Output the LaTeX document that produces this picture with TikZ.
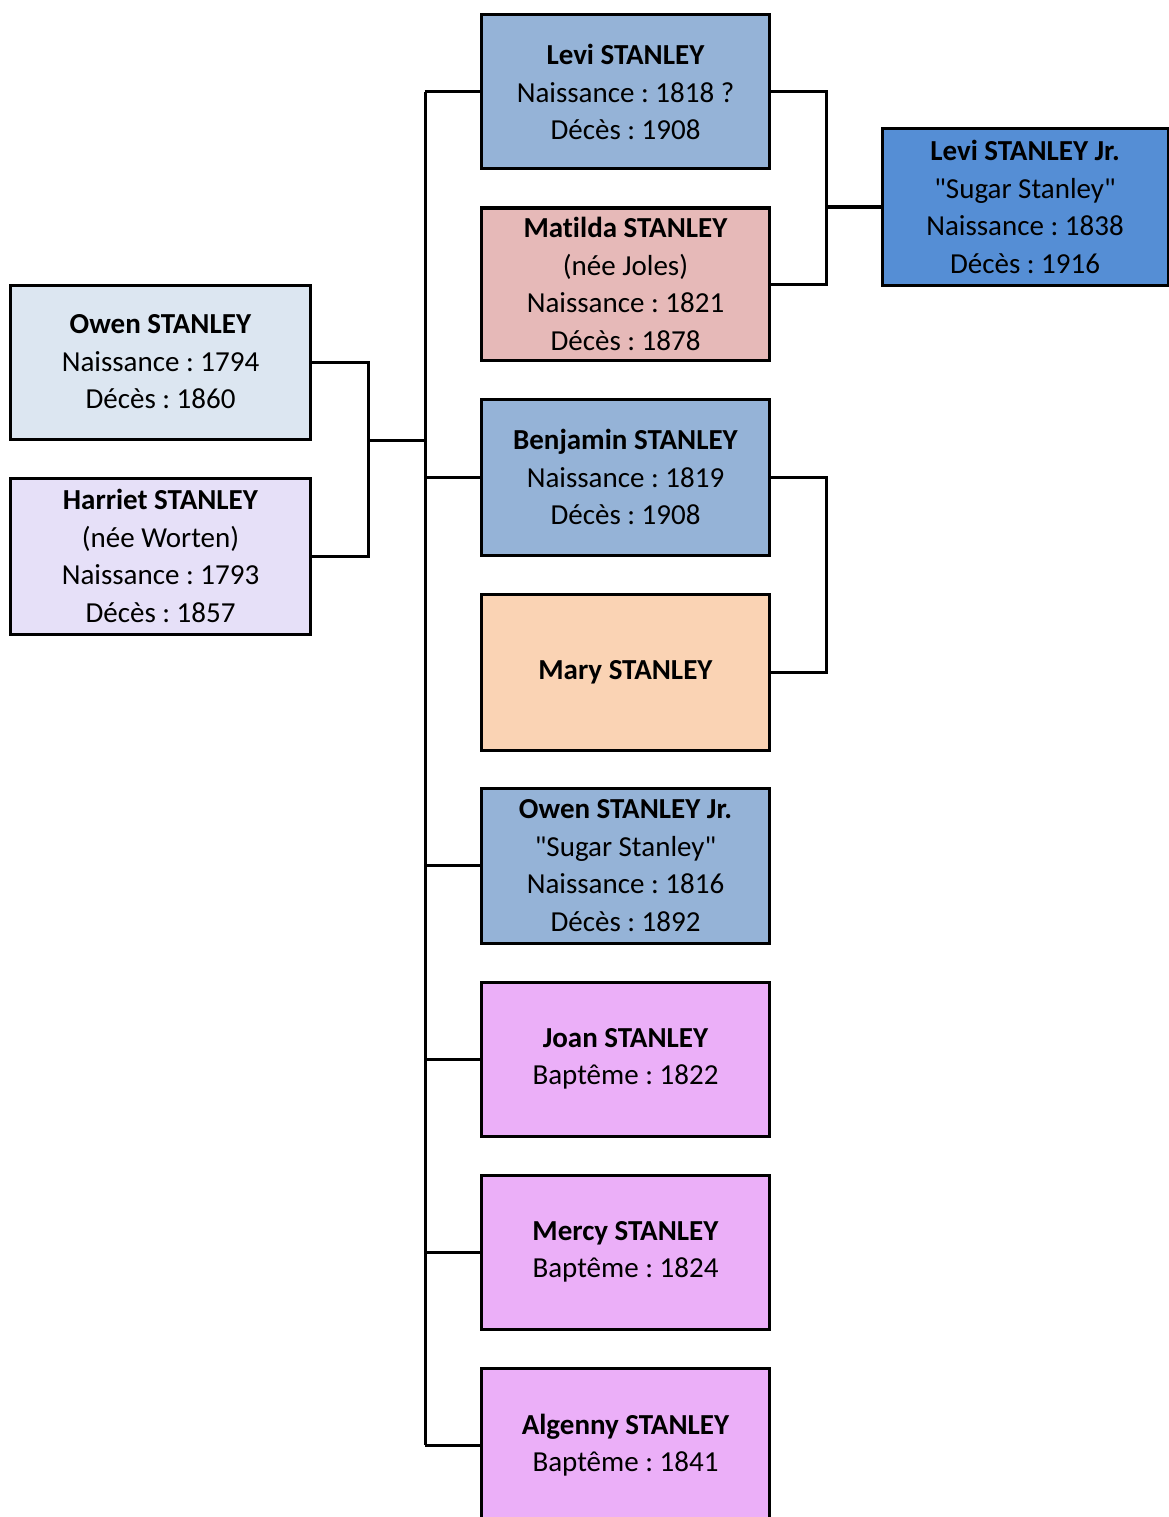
\documentclass[tikz,border=0pt]{standalone}
\usepackage{fontspec}
\newfontfamily\carl[Ligatures=NoCommon]{Carlito}
\definecolor{cOwen}{RGB}{220,230,241}
\definecolor{cHarriet}{RGB}{230,224,248}
\definecolor{cChild}{RGB}{149,179,215}
\definecolor{cMatilda}{RGB}{230,185,184}
\definecolor{cLeviJr}{RGB}{85,142,213}
\definecolor{cMary}{RGB}{250,211,180}
\definecolor{cBapt}{RGB}{235,175,248}
\tikzset{
  person/.style={draw=black, line width=3pt, inner sep=0pt, align=center,
    font=\carl\frenchspacing\fontsize{29}{37.5}\selectfont, text=black},
  colbox/.style={person, minimum width=288pt, minimum height=154pt},
  link/.style={draw=black, line width=3pt}
}
\begin{document}
\begin{tikzpicture}[x=1pt,y=-1pt]
\clip (0,0) rectangle (1169,1517);
\fill[white] (0,0) rectangle (1169,1517);
% parents
\node[person, fill=cOwen, minimum width=300pt, minimum height=154pt] (owen) at (160.5,362)
  {\textbf{Owen STANLEY}\\Naissance : 1794\\Décès : 1860};
\node[person, fill=cHarriet, minimum width=300pt, minimum height=156pt] (harriet) at (160.5,556)
  {\textbf{Harriet STANLEY}\\(née Worten)\\Naissance : 1793\\Décès : 1857};
% children column
\node[colbox, fill=cChild] (levi) at (625.5,92)
  {\textbf{Levi STANLEY}\\Naissance : 1818 ?\\Décès : 1908};
\node[colbox, fill=cMatilda, minimum height=152pt] (matilda) at (625.5,284)
  {\textbf{Matilda STANLEY}\\(née Joles)\\Naissance : 1821\\Décès : 1878};
\node[colbox, fill=cChild, minimum height=156pt] (benjamin) at (625.5,477)
  {\textbf{Benjamin STANLEY}\\Naissance : 1819\\Décès : 1908};
\node[colbox, fill=cMary, minimum height=156pt] (mary) at (625.5,672)
  {\textbf{Mary STANLEY}};
\node[colbox, fill=cChild, minimum height=155pt] (owenjr) at (625.5,865.5)
  {\textbf{Owen STANLEY Jr.}\\"Sugar Stanley"\\Naissance : 1816\\Décès : 1892};
\node[colbox, fill=cBapt] (joan) at (625.5,1059)
  {\textbf{Joan STANLEY}\\Baptême : 1822};
\node[colbox, fill=cBapt] (mercy) at (625.5,1252)
  {\textbf{Mercy STANLEY}\\Baptême : 1824};
\node[colbox, fill=cBapt] (algenny) at (625.5,1445)
  {\textbf{Algenny STANLEY}\\Baptême : 1841};
% grandchild
\node[person, fill=cLeviJr, minimum width=286pt, minimum height=156pt] (levijr) at (1025,207)
  {\textbf{Levi STANLEY Jr.}\\"Sugar Stanley"\\Naissance : 1838\\Décès : 1916};
% connectors
\coordinate (pj) at (368,440);
\coordinate (ttop) at (425,92);
\coordinate (tj) at (425,440);
\coordinate (lm) at (826,207);
\coordinate (bm) at (826,575);
\draw[link] (owen.east) -| (pj) |- (harriet.east);
\draw[link] (pj) -- (tj);
\draw[link] (ttop) -- (ttop |- algenny.west);
\foreach \c in {levi,benjamin,owenjr,joan,mercy,algenny}
  \draw[link] (\c.west) -- (\c.west -| ttop);
\draw[link] (levi.east) -| (lm) |- (matilda.east);
\draw[link] (lm) -- (levijr.west);
\draw[link] (benjamin.east) -| (bm) |- (mary.east);
\end{tikzpicture}
\end{document}
